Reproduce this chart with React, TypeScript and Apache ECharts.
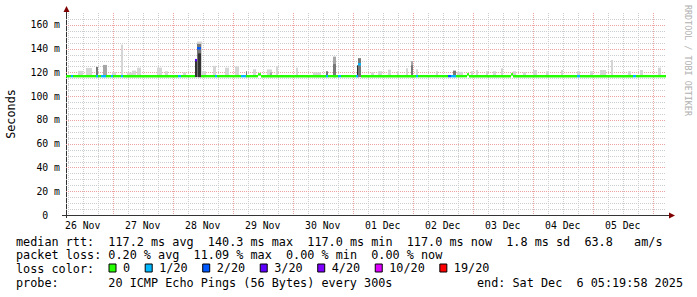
import React, { useEffect, useRef } from "react";
import * as echarts from "echarts";

// time axis: hours since 26 Nov 2025 00:00
const START_H = 5.333; // 26 Nov 05:20
const END_H = 245.333; // 06 Dec 05:20
const dayLabels = ["26 Nov", "27 Nov", "28 Nov", "29 Nov", "30 Nov", "01 Dec", "02 Dec", "03 Dec", "04 Dec", "05 Dec"];
const dayNoonHours = [12, 36, 60, 84, 108, 132, 156, 180, 204, 228];

const BASE_MEDIAN = 117.0; // ms
const PING_MIN = 116.0; // ms

const lossNames = ["0", "1/20", "2/20", "3/20", "4/20", "10/20", "19/20"];
const lossCounts = [0, 1, 2, 3, 4, 10, 19];
const lossColors = ["#26ff00", "#00b8ff", "#0059ff", "#5e00ff", "#7e00ff", "#dd00ff", "#ff0000"];

// median rtt segments that differ from the baseline (start h, end h, median ms, lost pings)
const segStart = [7.33, 17.33, 19.33, 23.33, 27.33, 50.13, 56.93, 57.73, 64.93, 75.33, 82.13, 109.33, 114.13, 121.33, 122.13, 145.33, 158.13, 159.33, 165.73, 183.33, 209.73, 232.13];
const segEnd = [8.13, 18.13, 21.33, 24.13, 28.13, 51.33, 57.73, 59.33, 65.73, 77.33, 83.33, 110.13, 115.33, 122.13, 123.33, 146.13, 159.33, 161.33, 166.53, 184.13, 210.93, 233.33];
const segMedian = [117, 117, 117, 117, 117, 117, 130.5, 140.5, 117, 117, 118.5, 117, 117, 117, 127, 117, 117, 117, 118.5, 118.5, 117, 117];
const segLoss = [1, 1, 1, 1, 1, 1, 3, 2, 1, 1, 0, 1, 1, 1, 1, 1, 2, 1, 0, 0, 1, 1];

// smoke (ping spread): start h, end h, top ms, density shade 1 (light) .. 4 (dark)
const smokeStart = [10.13, 13.33, 17.33, 20.13, 23.73, 27.33, 29.73, 31.73, 33.73, 41.73, 44.93, 52.13, 56.93, 57.73, 57.73, 58.13, 59.73, 64.13, 68.93, 72.93, 77.33, 80.13, 85.73, 86.93, 89.33, 97.33, 104.13, 109.33, 112.13, 112.13, 121.73, 122.13, 127.33, 130.13, 134.13, 137.73, 141.33, 143.33, 143.33, 145.33, 153.33, 160.13, 161.73, 167.33, 169.33, 173.33, 176.13, 179.33, 184.13, 188.13, 192.13, 197.33, 203.33, 209.73, 214.93, 218.93, 223.33, 230.13, 234.93, 242.13];
const smokeEnd = [12.13, 15.73, 18.13, 21.73, 25.33, 28.13, 31.73, 33.33, 35.33, 43.73, 46.13, 53.33, 57.73, 59.73, 59.33, 59.33, 61.33, 65.33, 70.53, 74.53, 77.73, 81.33, 87.73, 87.73, 90.13, 98.13, 107.33, 110.13, 113.33, 113.33, 122.53, 123.33, 128.53, 131.73, 135.33, 138.53, 142.13, 144.13, 144.13, 146.13, 154.13, 161.33, 164.13, 168.13, 170.13, 174.13, 177.33, 180.13, 185.33, 189.33, 193.73, 198.53, 204.13, 210.93, 216.13, 221.33, 224.13, 231.33, 236.13, 243.33];
const smokeTop = [121.3, 123.8, 124.6, 126.3, 120.2, 143.4, 120, 121.5, 124, 124, 121, 120, 131, 146, 144, 136, 121, 125.5, 124, 125, 121, 122.6, 122.5, 120, 125, 124, 120, 121, 133.3, 127, 126, 132, 120, 121, 122.3, 121, 123.5, 129.5, 126, 122.6, 121, 121.5, 120.5, 121, 122, 121, 121, 123.5, 121, 120, 122, 121, 122, 121, 121, 122, 130.5, 121, 122, 124];
const smokeShade = [1, 1, 3, 2, 1, 1, 1, 1, 1, 1, 1, 1, 4, 1, 3, 4, 1, 1, 1, 1, 3, 1, 1, 2, 1, 1, 1, 3, 2, 3, 4, 3, 1, 1, 1, 1, 1, 2, 3, 1, 1, 3, 1, 1, 1, 1, 1, 1, 1, 1, 1, 1, 1, 1, 1, 1, 1, 1, 1, 1];

const statRow1 = "median rtt:  117.2 ms avg  140.3 ms max  117.0 ms min  117.0 ms now  1.8 ms sd  63.8   am/s";
const statRow2 = "packet loss: 0.20 % avg  11.09 % max  0.00 % min  0.00 % now";
const statRow3 = "loss color:";
const statRow4 = "probe:       20 ICMP Echo Pings (56 Bytes) every 300s";
const endText = "end: Sat Dec  6 05:19:58 2025";
const watermark = "RRDTOOL / TOBI OETIKER";

// ---- layout / style ----
const MONO = '"DejaVu Sans Mono", monospace';
const FS = 11.8;
const CHAR_W = FS * 0.6021;
const GRID_L = 66;
const GRID_T = 13;
const GRID_W = 600;
const GRID_H = 202;
const smokeGreys = ["", "#d5d5d5", "#a6a6a6", "#777777", "#333333"];
const AXIS_COLOR = "#333333";
const ARROW_COLOR = "#7f0000";

function monoLine(str: string, x0: number, y: number) {
  const out: any[] = [];
  const re = /\S+(?: \S+)*/g;
  let m: RegExpExecArray | null;
  while ((m = re.exec(str))) {
    out.push({
      type: "text",
      x: x0 + m.index * CHAR_W,
      y,
      style: {
        text: m[0],
        font: `${FS}px ${MONO}`,
        fill: "#000",
        textVerticalAlign: "middle",
        verticalAlign: "middle",
      },
    });
  }
  return out;
}

function buildMedianSegments() {
  const segs: number[][] = [];
  let cur = START_H;
  for (let i = 0; i < segStart.length; i++) {
    if (segStart[i] > cur) segs.push([cur, segStart[i], BASE_MEDIAN, 0]);
    segs.push([segStart[i], segEnd[i], segMedian[i], segLoss[i]]);
    cur = segEnd[i];
  }
  if (cur < END_H) segs.push([cur, END_H, BASE_MEDIAN, 0]);
  return segs;
}

function buildGridLines() {
  const lines: number[][] = [];
  for (let h = 6; h < END_H; h += 6) lines.push([h % 24 === 0 ? 1 : 0, h]);
  for (let v = 5; v < 170; v += 5) lines.push([v % 20 === 0 ? 3 : 2, v]);
  return lines;
}

export default function App() {
  const ref = useRef<HTMLDivElement>(null);
  useEffect(() => {
    const chart = echarts.init(ref.current!, null, { renderer: "svg" });
    const medianSegs = buildMedianSegments();
    const smokeData = smokeStart.map((s, i) => [s, smokeEnd[i], smokeTop[i], smokeShade[i]]);

    const medianSeries = lossCounts.map((cnt, li) => ({
      type: "custom",
      name: lossNames[li],
      z: 4,
      clip: true,
      itemStyle: { color: lossColors[li] },
      encode: { x: [0, 1], y: 2 },
      data: medianSegs.filter((d) => d[3] === cnt).map((d) => [d[0], d[1], d[2]]),
      renderItem: (params: any, api: any) => {
        const a = api.coord([api.value(0), api.value(2)]);
        const b = api.coord([api.value(1), api.value(2)]);
        return {
          type: "rect",
          shape: { x: a[0], y: a[1] - 1, width: b[0] - a[0], height: 2.4 },
          style: { fill: lossColors[li] },
        };
      },
    }));

    const option: any = {
      animation: false,
      backgroundColor: "#ffffff",
      grid: { left: GRID_L, top: GRID_T, width: GRID_W, height: GRID_H, containLabel: false, outerBoundsMode: "none" },
      xAxis: {
        type: "value",
        min: START_H,
        max: END_H,
        axisLine: { show: true, lineStyle: { color: AXIS_COLOR, width: 1 } },
        axisTick: { show: false },
        splitLine: { show: false },
        axisLabel: {
          customValues: dayNoonHours,
          formatter: (v: number) => {
            const i = dayNoonHours.indexOf(Math.round(v));
            return i >= 0 ? dayLabels[i] : "";
          },
          fontFamily: MONO,
          fontSize: 9.8,
          color: "#000",
          margin: 5,
        },
      },
      yAxis: {
        type: "value",
        min: 0,
        max: 170,
        interval: 10,
        name: "Seconds",
        nameLocation: "middle",
        nameRotate: 90,
        nameGap: 49,
        nameTextStyle: { fontFamily: MONO, fontSize: FS, color: "#000" },
        axisLine: { show: true, lineStyle: { color: AXIS_COLOR, width: 1 } },
        axisTick: { show: false },
        splitLine: { show: false },
        axisLabel: {
          formatter: (v: number) => {
            if (v % 20 !== 0 || v > 160) return "";
            return v === 0 ? "{z|0}" : `${v} m`;
          },
          rich: { z: { fontFamily: MONO, fontSize: 9.8, color: "#000", padding: [0, 11.8, 0, 0] } },
          fontFamily: MONO,
          fontSize: 9.8,
          color: "#000",
          margin: 6,
        },
      },
      legend: {
        data: lossNames,
        left: 108.5,
        top: 262,
        padding: 0,
        icon: "rect",
        itemWidth: 7,
        itemHeight: 8,
        itemGap: 14.6,
        selectedMode: false,
        itemStyle: { borderColor: "#000", borderWidth: 1 },
        textStyle: { fontFamily: MONO, fontSize: FS, color: "#000", padding: [0, 0, 0, 2] },
      },
      series: [
        {
          type: "custom",
          name: "grid",
          z: 1,
          silent: true,
          clip: true,
          encode: { x: 1, y: 1 },
          data: buildGridLines(),
          renderItem: (params: any, api: any) => {
            const kind = api.value(0);
            const v = api.value(1);
            const cs = params.coordSys;
            const major = kind === 1 || kind === 3;
            const style = {
              stroke: major ? "#eba3a3" : "#cdcdcd",
              lineWidth: 1,
              lineDash: [1, 1],
            };
            if (kind <= 1) {
              const x = Math.round(api.coord([v, 0])[0]) + 0.5;
              return { type: "line", shape: { x1: x, y1: cs.y, x2: x, y2: cs.y + cs.height }, style };
            }
            const y = Math.round(api.coord([START_H, v])[1]) + 0.5;
            return { type: "line", shape: { x1: cs.x, y1: y, x2: cs.x + cs.width, y2: y }, style };
          },
        },
        {
          type: "custom",
          name: "smoke",
          z: 2,
          silent: true,
          clip: true,
          encode: { x: [0, 1], y: 2 },
          data: smokeData,
          renderItem: (params: any, api: any) => {
            const a = api.coord([api.value(0), api.value(2)]);
            const b = api.coord([api.value(1), PING_MIN]);
            return {
              type: "rect",
              shape: { x: a[0], y: a[1], width: b[0] - a[0], height: b[1] - a[1] },
              style: { fill: smokeGreys[api.value(3)] },
            };
          },
        },
        ...medianSeries,
      ],
      graphic: [
        // axis extensions and arrows
        { type: "line", shape: { x1: GRID_L - 4, y1: GRID_T + GRID_H + 0.5, x2: GRID_L + GRID_W + 4, y2: GRID_T + GRID_H + 0.5 }, style: { stroke: AXIS_COLOR, lineWidth: 1 } },
        { type: "line", shape: { x1: GRID_L + 0.5, y1: GRID_T - 2, x2: GRID_L + 0.5, y2: GRID_T + GRID_H + 3 }, style: { stroke: AXIS_COLOR, lineWidth: 1 } },
        { type: "polygon", shape: { points: [[GRID_L + GRID_W + 3, GRID_T + GRID_H - 2.5], [GRID_L + GRID_W + 9, GRID_T + GRID_H + 0.5], [GRID_L + GRID_W + 3, GRID_T + GRID_H + 3.5]] }, style: { fill: ARROW_COLOR } },
        { type: "polygon", shape: { points: [[GRID_L - 2.5, GRID_T - 1], [GRID_L + 0.5, GRID_T - 7], [GRID_L + 3.5, GRID_T - 1]] }, style: { fill: ARROW_COLOR } },
        // watermark
        {
          type: "text",
          x: 688,
          y: 5,
          rotation: -Math.PI / 2,
          style: {
            text: watermark,
            font: `8.4px ${MONO}`,
            fill: "#b0b0b0",
            textAlign: "left",
            align: "left",
            textVerticalAlign: "middle",
            verticalAlign: "middle",
          },
        },
        ...monoLine(statRow1, 16, 241.5),
        ...monoLine(statRow2, 16, 255.3),
        ...monoLine(statRow3, 16, 269),
        ...monoLine(statRow4, 16, 282.8),
        ...monoLine(endText, 477, 282.8),
      ],
    };
    chart.setOption(option);
    return () => chart.dispose();
  }, []);
  return <div ref={ref} style={{ position: "absolute", left: 0, top: 0, width: 697, height: 297 }} />;
}
